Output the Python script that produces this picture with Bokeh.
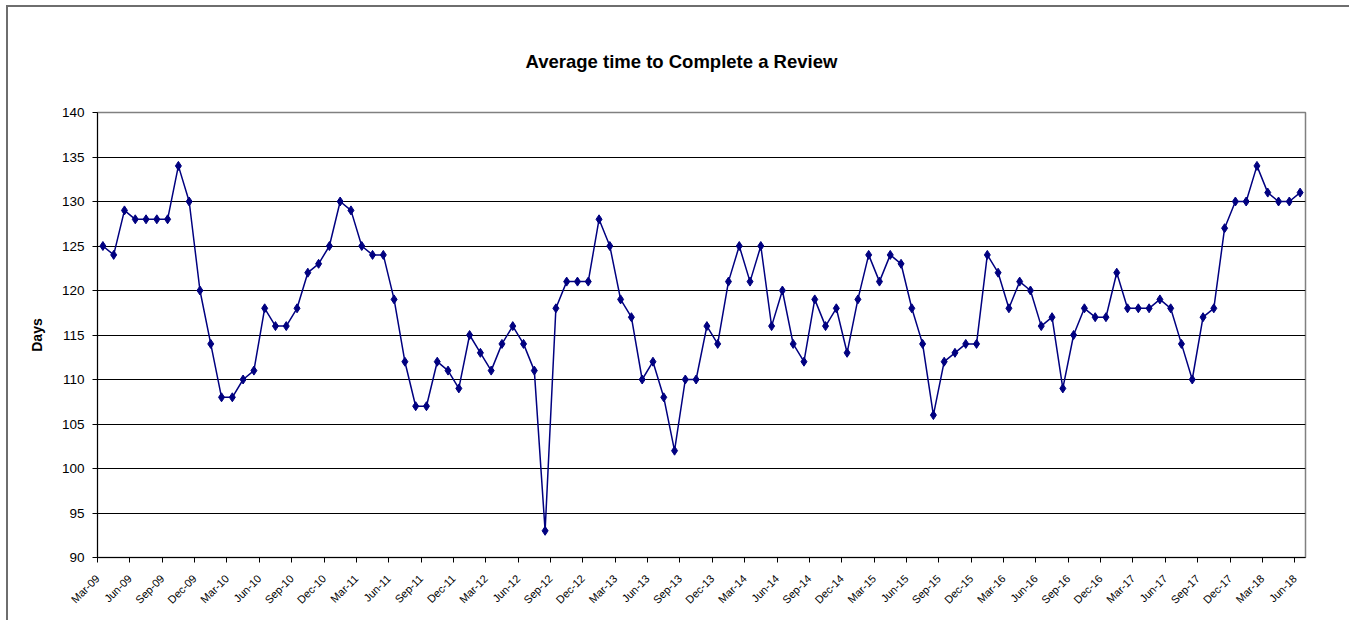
import pandas as pd
from bokeh.plotting import figure
from bokeh.models import FixedTicker, Range1d, Title
from bokeh.embed import file_html
from bokeh.resources import INLINE

# ---- data ----
months = [d.strftime("%b-%y") for d in pd.date_range("2009-03-01", "2018-06-01", freq="MS")]
days = [125, 124, 129, 128, 128, 128, 128, 134, 130, 120,
        114, 108, 108, 110, 111, 118, 116, 116, 118, 122,
        123, 125, 130, 129, 125, 124, 124, 119, 112, 107,
        107, 112, 111, 109, 115, 113, 111, 114, 116, 114,
        111, 93, 118, 121, 121, 121, 128, 125, 119, 117,
        110, 112, 108, 102, 110, 110, 116, 114, 121, 125,
        121, 125, 116, 120, 114, 112, 119, 116, 118, 113,
        119, 124, 121, 124, 123, 118, 114, 106, 112, 113,
        114, 114, 124, 122, 118, 121, 120, 116, 117, 109,
        115, 118, 117, 117, 122, 118, 118, 118, 119, 118,
        114, 110, 117, 118, 127, 130, 130, 134, 131, 130,
        130, 131]
y_ticks = [90, 95, 100, 105, 110, 115, 120, 125, 130, 135, 140]
title_text = "Average time to Complete a Review"
y_label = "Days"

FONT = "Liberation Sans"
NAVY = "#000080"

x = list(range(1, len(days) + 1))

# canvas starts at page (8, 7) because of margin + 2px border
p = figure(width=1343, height=615, output_backend="svg", toolbar_location=None,
           x_range=Range1d(0.5, len(days) + 0.5), y_range=Range1d(90, 140),
           min_border_left=89, min_border_right=46, min_border_top=105, min_border_bottom=65,
           background_fill_color="white", border_fill_color="white",
           margin=(5, 0, 0, 6))
p.styles = {"border-top": "2px solid #6e6e6e", "border-left": "2px solid #6e6e6e"}

p.title = Title(text=title_text, align="left", text_font=FONT, text_font_size="18.5px",
                text_font_style="bold", text_color="black", offset=428, standoff=82)

p.line(x, days, line_color=NAVY, line_width=1.5)
p.scatter(x, days, marker="diamond", size=9, fill_color=NAVY, line_color=NAVY)

# x axis: ticks at category boundaries every 3 months
tick_pos = [i + 0.5 for i in range(0, len(days), 3)]
p.xaxis.ticker = FixedTicker(ticks=tick_pos)
p.xaxis.major_label_overrides = {i + 0.5: months[i] for i in range(0, len(days), 3)}
p.xaxis.major_label_orientation = 0.785398
p.xaxis.major_label_text_font = FONT
p.xaxis.major_label_text_font_size = "11px"
p.xaxis.major_label_text_color = "black"
p.xaxis.major_tick_out = 5
p.xaxis.major_tick_in = 0
p.xaxis.minor_tick_out = 0
p.xaxis.minor_tick_in = 0
p.xaxis.axis_line_color = "black"
p.xaxis.major_tick_line_color = "black"
p.xaxis.major_label_standoff = 14

p.yaxis.ticker = FixedTicker(ticks=y_ticks)
p.yaxis.major_label_text_font = FONT
p.yaxis.major_label_text_font_size = "13.5px"
p.yaxis.major_label_text_color = "black"
p.yaxis.major_tick_out = 5
p.yaxis.major_tick_in = 0
p.yaxis.minor_tick_out = 0
p.yaxis.minor_tick_in = 0
p.yaxis.axis_line_color = "black"
p.yaxis.major_tick_line_color = "black"
p.yaxis.major_label_standoff = 8
p.yaxis.axis_label = y_label
p.yaxis.axis_label_text_font = FONT
p.yaxis.axis_label_text_font_size = "14px"
p.yaxis.axis_label_text_font_style = "bold"
p.yaxis.axis_label_text_color = "black"
p.yaxis.axis_label_standoff = 14

p.xgrid.visible = False
p.ygrid.ticker = FixedTicker(ticks=y_ticks[1:-1])
p.ygrid.grid_line_color = "black"
p.ygrid.grid_line_width = 1
p.outline_line_color = "#808080"
p.outline_line_width = 1.5

open("out.html", "w").write(file_html(p, INLINE))
